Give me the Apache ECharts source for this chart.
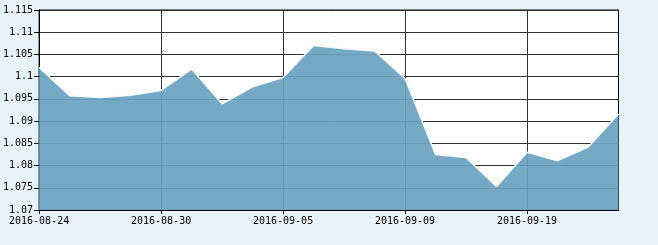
<!DOCTYPE html>
<html>
<head>
<meta charset="utf-8">
<script src="https://cdn.jsdelivr.net/npm/echarts@6/dist/echarts.min.js"></script>
<style>
html,body{margin:0;padding:0;background:#e7f2fa;}
#c{width:658px;height:245px;}
</style>
</head>
<body>
<div id="c"></div>
<script>
var categories = ['2016-08-24','2016-08-25','2016-08-26','2016-08-29','2016-08-30','2016-08-31','2016-09-01','2016-09-02','2016-09-05','2016-09-06','2016-09-07','2016-09-08','2016-09-09','2016-09-12','2016-09-13','2016-09-14','2016-09-19','2016-09-20','2016-09-21','2016-09-22'];
var values = [1.1021,1.0957,1.0953,1.0958,1.0969,1.1017,1.0939,1.0977,1.0998,1.1070,1.1063,1.1058,1.0996,1.0825,1.0818,1.0753,1.0830,1.0811,1.0841,1.0916];
var yMin = 1.070, yMax = 1.115, yStep = 0.005;

var chart = echarts.init(document.getElementById('c'), null, {renderer:'canvas'});
chart.setOption({
  backgroundColor: '#e7f2fa',
  animation: false,
  grid: {left: 38.5, top: 10, right: 39.5, bottom: 35, show: true, backgroundColor: '#fff', borderColor: '#000', borderWidth: 1},
  xAxis: {
    type: 'category', data: categories, boundaryGap: false,
    axisLine: {lineStyle: {color: '#000', width: 1}},
    axisTick: {show: true, interval: 3, length: 4, lineStyle: {color: '#000'}},
    axisLabel: {interval: 3, margin: 6, color: '#000', fontFamily: 'DejaVu Sans Mono', fontSize: 10},
    splitLine: {show: true, interval: 3, lineStyle: {color: '#333', width: 1}}
  },
  yAxis: {
    type: 'value', min: yMin, max: yMax, interval: yStep,
    axisLine: {show: true, lineStyle: {color: '#000', width: 1}},
    axisTick: {show: true, length: 5, lineStyle: {color: '#000'}},
    axisLabel: {margin: 6, color: '#000', fontFamily: 'DejaVu Sans Mono', fontSize: 10,
      formatter: function(v){ return String(parseFloat(v.toFixed(3))); }},
    splitLine: {show: true, lineStyle: {color: '#333', width: 1}}
  },
  series: [{
    type: 'line', data: values, symbol: 'none',
    lineStyle: {color: '#f4fbff', width: 1.5},
    areaStyle: {color: 'rgb(108,162,193)', opacity: 0.93}
  }]
});
</script>
</body>
</html>
